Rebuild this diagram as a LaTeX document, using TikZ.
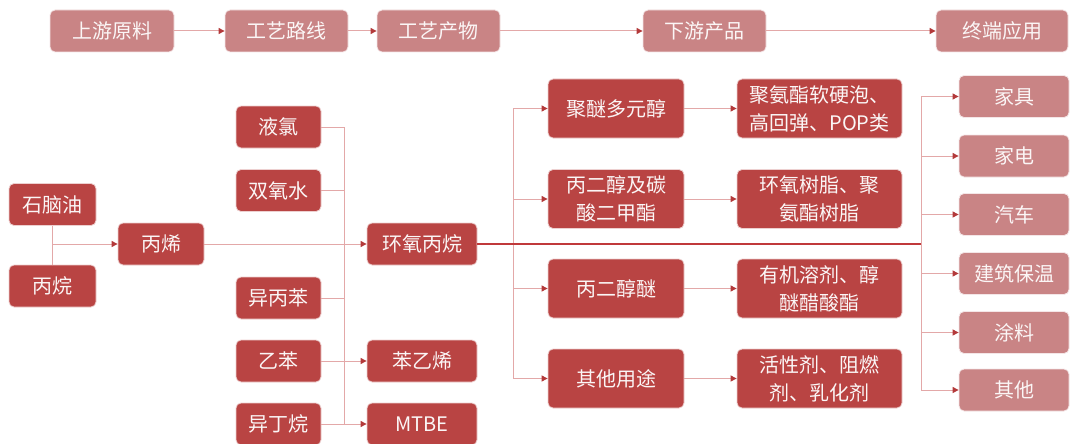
\documentclass[tikz,border=0pt]{standalone}
\usepackage{fontspec}
\setmainfont{Noto Sans CJK SC}
\usetikzlibrary{arrows.meta}
\definecolor{darkbox}{HTML}{B94443}
\definecolor{lightbox}{HTML}{C98485}
\definecolor{pinkline}{HTML}{E3A8A8}
\definecolor{tipred}{HTML}{B3393A}
\definecolor{mainline}{HTML}{C0393B}
\tikzset{
  boxbase/.style={rounded corners=5pt, draw=white!75!darkbox, line width=0.8pt, text=white!95!darkbox, inner sep=0pt, align=center, font=\fontsize{20}{28}\selectfont},
  dbox/.style={boxbase, fill=darkbox, minimum height=42pt},
  lbox/.style={boxbase, fill=lightbox, minimum height=42pt, draw=white!80!lightbox},
  conn/.style={draw=pinkline, line width=1pt},
  arr/.style={conn, -{Triangle[length=6pt,width=6pt,color=tipred]}},
  mline/.style={draw=mainline, line width=1.2pt}
}
\begin{document}
\begin{tikzpicture}[x=1pt,y=-1pt]
\useasboundingbox (0,0) rectangle (1071,444);
% top row
\node[lbox, minimum width=124pt] (u1) at (112,31) {上游原料};
\node[lbox, minimum width=123pt] (u2) at (286.5,31) {工艺路线};
\node[lbox, minimum width=123pt] (u3) at (438.5,31) {工艺产物};
\node[lbox, minimum width=123pt] (u4) at (704.5,31) {下游产品};
\node[lbox, minimum width=132pt] (u5) at (1002,31) {终端应用};
\draw[arr] (u1) -- (u2);
\draw[arr] (u2) -- (u3);
\draw[arr] (u3) -- (u4);
\draw[arr] (u4) -- (u5);
% raw materials
\node[dbox, minimum width=87pt] (a) at (52.5,204.5) {石脑油};
\node[dbox, minimum width=87pt] (b) at (52.5,286) {丙烷};
\node[dbox, minimum width=86pt] (c) at (161,244) {丙烯};
\coordinate (j1) at (52.5,244);
\draw[conn] (a) -- (b);
\draw[arr] (j1) -- (c);
% inputs
\node[dbox, minimum width=85pt] (d1) at (278.5,127) {液氯};
\node[dbox, minimum width=85pt] (d2) at (278.5,190.5) {双氧水};
\node[dbox, minimum width=85pt] (d3) at (278.5,298) {异丙苯};
\node[dbox, minimum width=85pt] (d4) at (278.5,361) {乙苯};
\node[dbox, minimum width=85pt] (d5) at (278.5,424) {异丁烷};
\node[dbox, minimum width=110pt] (e) at (422,244) {环氧丙烷};
\node[dbox, minimum width=110pt] (f) at (422,361) {苯乙烯};
\node[dbox, minimum width=110pt] (g) at (422,424) {MTBE};
\coordinate (bus) at (344,244);
\draw[conn] (d1.east -| bus) -- (d5.east -| bus);
\foreach \n in {d1,d2,d3,d4,d5} \draw[conn] (\n.east) -- (\n.east -| bus);
\draw[arr] (c) -- (e);
\draw[arr] (f.west -| bus) -- (f.west);
\draw[arr] (g.west -| bus) -- (g.west);
% downstream
\node[dbox, minimum width=136pt, minimum height=59pt] (p1) at (616,108.5) {聚醚多元醇};
\node[dbox, minimum width=136pt, minimum height=59pt] (p2) at (616,199) {丙二醇及碳\\酸二甲酯};
\node[dbox, minimum width=136pt, minimum height=59pt] (p3) at (616,288.5) {丙二醇醚};
\node[dbox, minimum width=136pt, minimum height=59pt] (p4) at (616,378.5) {其他用途};
\node[dbox, minimum width=165pt, minimum height=59pt] (q1) at (819.5,108.5) {聚氨酯软硬泡、\\高回弹、POP类};
\node[dbox, minimum width=165pt, minimum height=59pt] (q2) at (819.5,199) {环氧树脂、聚\\氨酯树脂};
\node[dbox, minimum width=165pt, minimum height=59pt] (q3) at (819.5,288.5) {有机溶剂、醇\\醚醋酸酯};
\node[dbox, minimum width=165pt, minimum height=59pt] (q4) at (819.5,378.5) {活性剂、阻燃\\剂、乳化剂};
\coordinate (br) at (513,244);
\coordinate (bus3) at (921,244);
\draw[conn] (p1.west -| br) -- (p4.west -| br);
\foreach \n in {p1,p2,p3,p4} \draw[arr] (\n.west -| br) -- (\n.west);
\foreach \i in {1,2,3,4} \draw[arr] (p\i) -- (q\i);
% terminals
\node[lbox, minimum width=110pt] (t1) at (1014,96.5) {家具};
\node[lbox, minimum width=110pt] (t2) at (1014,156) {家电};
\node[lbox, minimum width=110pt] (t3) at (1014,214.5) {汽车};
\node[lbox, minimum width=110pt] (t4) at (1014,273.5) {建筑保温};
\node[lbox, minimum width=110pt] (t5) at (1014,332.5) {涂料};
\node[lbox, minimum width=110pt] (t6) at (1014,390) {其他};
\draw[conn] (t1.west -| bus3) -- (t6.west -| bus3);
\foreach \n in {t1,t2,t3,t4,t5,t6} \draw[arr] (\n.west -| bus3) -- (\n.west);
\draw[mline] (e.east) -- (bus3);
\end{tikzpicture}
\end{document}
